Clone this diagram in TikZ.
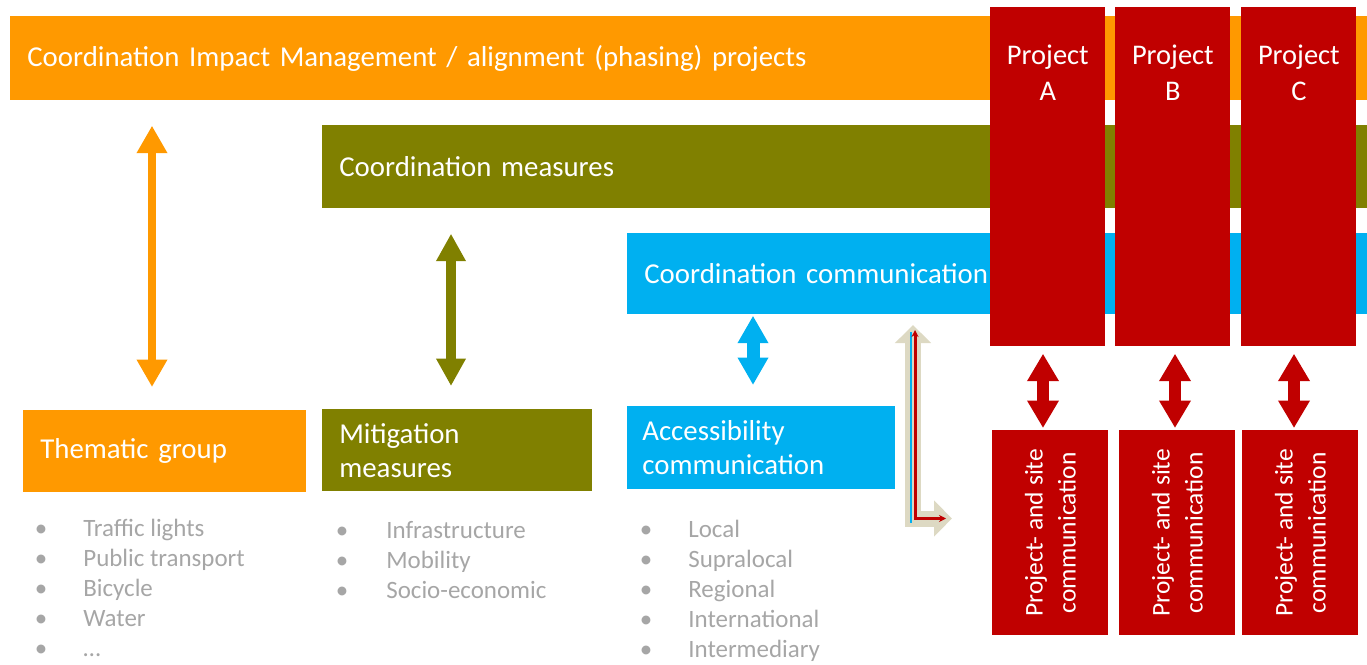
\documentclass[tikz,border=0pt]{standalone}
\usepackage{fontspec}
\setmainfont{Carlito}
\usetikzlibrary{arrows.meta}

\begin{document}
\begin{tikzpicture}[
  bar/.style={anchor=north west, inner xsep=0.34cm, inner ysep=0pt, align=left, text=white, font=\fontsize{16.4}{19.5}\selectfont},
  prj/.style={anchor=north west, fill=project, inner sep=0pt},
  prjtxt/.style={anchor=north, inner sep=0pt, align=center, text=white, font=\fontsize{16.2}{20.5}\selectfont},
  sitetxt/.style={inner sep=0pt, align=center, text=white, font=\fontsize{14.5}{18.8}\selectfont},
  bul/.style={anchor=base, inner sep=0pt, text=itemgray, font=\fontsize{14.2}{17}\selectfont},
  itm/.style={anchor=base west, inner sep=0pt, text=itemgray, font=\fontsize{14.2}{17}\selectfont},
  dbl/.style={arrows={Triangle[width=#1,length=0.55cm]-Triangle[width=#1,length=0.55cm]}},
  dbl/.default=0.58cm
]
% Define colours
\definecolor{impact}{RGB}{255,153,0}
\definecolor{measure}{RGB}{128,128,0}
\definecolor{commu}{RGB}{0,176,240}
\definecolor{project}{RGB}{192,0,0}
\definecolor{itemgray}{RGB}{166,166,166}
\definecolor{bentarrow}{RGB}{221,217,195}

\useasboundingbox (0,0) rectangle (27.34,-13.28);

% Draw coordination bars
\node[bar, fill=impact, minimum width=27.14cm, text width=26.46cm, minimum height=1.68cm] (impact) at (0.2,-0.32) {Coordination Impact Management / alignment (phasing) projects};
\node[bar, fill=measure, minimum width=20.9cm, text width=20.22cm, minimum height=1.66cm] (measures) at (6.44,-2.5) {Coordination measures};
\node[bar, fill=commu, minimum width=14.8cm, text width=14.12cm, minimum height=1.62cm, inner xsep=0.3cm] (commu) at (12.54,-4.66) {Coordination communication};

% Draw projects
\foreach \p/\x in {A/19.8, B/22.3, C/24.82} {
  \node[prj, minimum width=2.3cm, minimum height=6.78cm] (p\p) at (\x,-0.14) {};
  \node[prjtxt] (p\p-txt) at ([yshift=-0.75cm]p\p.north) {Project\\\p};
}

% Draw groups below
\node[bar, fill=impact, minimum width=5.66cm, text width=4.98cm, minimum height=1.64cm] (thematic) at (0.46,-8.2) {Thematic group};
\node[bar, fill=measure, minimum width=5.4cm, text width=4.72cm, minimum height=1.64cm] (mitigation) at (6.44,-8.18) {Mitigation\\measures};
\node[bar, fill=commu, minimum width=5.36cm, text width=4.76cm, minimum height=1.66cm, inner xsep=0.3cm] (access) at (12.54,-8.12) {Accessibility\\communication};

% Project- and site communication
\foreach \p/\x in {A/19.84, B/22.38, C/24.84} {
  \node[prj, minimum width=2.32cm, minimum height=4.1cm] (s\p) at (\x,-8.6) {};
  \node[sitetxt, rotate=90] (s\p-txt) at (s\p.center) {Project- and site\\communication};
}

% Double arrows
\coordinate (xo) at (3.04,0);
\coordinate (xm) at (9.02,0);
\coordinate (xc) at (15.06,0);
\draw[dbl, impact, line width=0.16cm, shorten <=0.5cm, shorten >=0.46cm] (impact.south -| xo) -- (thematic.north -| xo);
\draw[dbl=0.56cm, measure, line width=0.2cm, shorten <=0.5cm, shorten >=0.46cm] (measures.south -| xm) -- (mitigation.north -| xm);
\draw[dbl, commu, line width=0.26cm, shorten <=0.02cm, shorten >=0.42cm] (commu.south -| xc) -- (access.north -| xc);
\foreach \p/\x in {A/20.86, B/23.5, C/25.88} {
  \coordinate (x\p) at (\x,0);
  \draw[dbl=0.6cm, project, line width=0.24cm, shorten <=0.14cm, shorten >=0.04cm] (p\p.south -| x\p) -- (s\p.north -| x\p);
}

% Bent arrow
\coordinate (lt) at (18.26,-6.5);
\coordinate (lc) at (18.26,-10.37);
\coordinate (lr) at (19.04,-10.37);
\draw[bentarrow, line width=0.32cm, line join=miter, arrows={Triangle[width=0.7cm,length=0.36cm]-Triangle[width=0.7cm,length=0.36cm]}] (lt) -- (lc) -- (lr);
\draw[commu, line width=0.04cm] ([xshift=-0.04cm,yshift=-0.14cm]lt) -- ([xshift=-0.04cm,yshift=-0.08cm]lc);
\draw[project, line width=0.06cm, arrows={Stealth[length=0.14cm,width=0.14cm]-Stealth[length=0.14cm,width=0.14cm]}] ([xshift=0.04cm,yshift=-0.1cm]lt) -- ([xshift=0.04cm]lc) -- ([xshift=-0.12cm]lr);

% Add items
\foreach \t [count=\i] in {Traffic lights, Public transport, Bicycle, Water, \dots} {
  \node[bul] (tb\i) at (0.82,{-10.72-0.6*(\i-1)}) {\textbullet};
  \node[itm] (ti\i) at (1.66,{-10.72-0.6*(\i-1)}) {\t};
}
\foreach \t [count=\i] in {Infrastructure, Mobility, Socio-economic} {
  \node[bul] (mb\i) at (6.84,{-10.76-0.6*(\i-1)}) {\textbullet};
  \node[itm] (mi\i) at (7.72,{-10.76-0.6*(\i-1)}) {\t};
}
\foreach \t [count=\i] in {Local, Supralocal, Regional, International, Intermediary} {
  \node[bul] (ab\i) at (12.92,{-10.74-0.6*(\i-1)}) {\textbullet};
  \node[itm] (ai\i) at (13.76,{-10.74-0.6*(\i-1)}) {\t};
}
\end{tikzpicture}
\end{document}
